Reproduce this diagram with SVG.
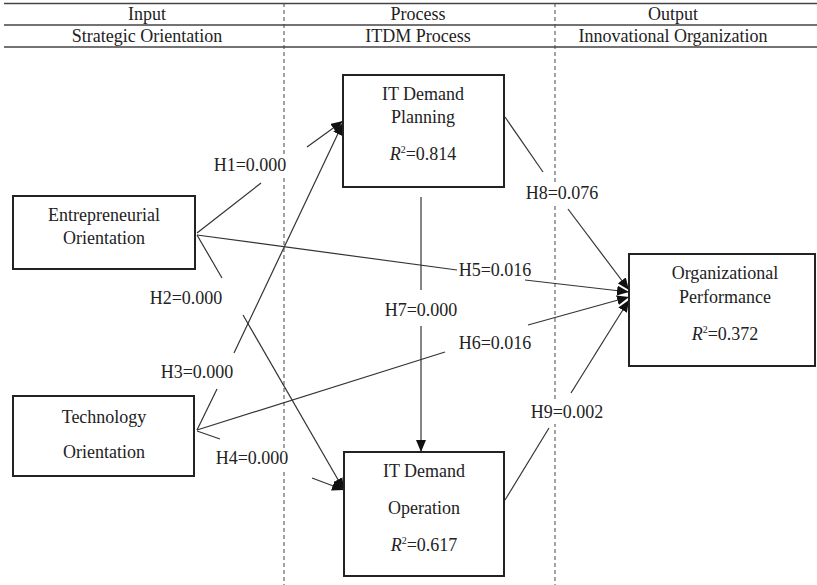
<svg xmlns="http://www.w3.org/2000/svg" width="817" height="585" viewBox="0 0 817 585">
<defs>
<marker id="arr" markerWidth="12" markerHeight="10" refX="12" refY="5" orient="auto" markerUnits="userSpaceOnUse">
<path d="M0,0 L12,5 L0,10 z" fill="#111"/>
</marker>
<style>
text{font-family:"Liberation Serif","Times New Roman",serif;font-size:18px;fill:#222;text-anchor:middle}
.hd{font-size:18px}
.box{fill:#fff;stroke:#222;stroke-width:2}
.ln{stroke:#333;stroke-width:1.2;fill:none}
.dash{stroke:#666;stroke-width:1.2;stroke-dasharray:4 3}
.rule{stroke:#444;stroke-width:1.3}
.bg{fill:#fff}
</style>
</defs>
<rect width="817" height="585" fill="#fff"/>
<g id="grid">
<line class="dash" x1="284" y1="3" x2="284" y2="585"/>
<line class="dash" x1="555" y1="3" x2="555" y2="585"/>
<line class="rule" x1="4" y1="3.5" x2="817" y2="3.5" style="stroke-width:1.6"/>
<line class="rule" x1="4" y1="25" x2="817" y2="25"/>
<line class="rule" x1="4" y1="47" x2="817" y2="47"/>
<text class="hd" x="147" y="20">Input</text>
<text class="hd" x="418" y="20">Process</text>
<text class="hd" x="673" y="20">Output</text>
<text class="hd" x="147" y="42">Strategic Orientation</text>
<text class="hd" x="418" y="42">ITDM Process</text>
<text class="hd" x="673" y="42">Innovational Organization</text>
</g>
<g id="connectors">
<line class="ln" x1="197" y1="233" x2="261" y2="183"/>
<line class="ln" x1="307" y1="147" x2="343" y2="121" marker-end="url(#arr)"/>
<line class="ln" x1="197" y1="235" x2="222" y2="278"/>
<line class="ln" x1="243" y1="315" x2="344" y2="490" marker-end="url(#arr)"/>
<line class="ln" x1="197" y1="430" x2="217" y2="389"/>
<line class="ln" x1="234" y1="353" x2="343" y2="123" marker-end="url(#arr)"/>
<line class="ln" x1="197" y1="431" x2="220" y2="439"/>
<line class="ln" x1="312" y1="478" x2="344" y2="490" marker-end="url(#arr)"/>
<line class="ln" x1="197" y1="235" x2="457" y2="270"/>
<line class="ln" x1="525" y1="280" x2="629" y2="292" marker-end="url(#arr)"/>
<line class="ln" x1="197" y1="430" x2="445" y2="352"/>
<line class="ln" x1="528" y1="325" x2="629" y2="297" marker-end="url(#arr)"/>
<line class="ln" x1="421" y1="197" x2="421" y2="290"/>
<line class="ln" x1="421" y1="326" x2="421" y2="452" marker-end="url(#arr)"/>
<line class="ln" x1="505" y1="117" x2="543" y2="172"/>
<line class="ln" x1="568" y1="209" x2="629" y2="290" marker-end="url(#arr)"/>
<line class="ln" x1="505" y1="500" x2="549" y2="428"/>
<line class="ln" x1="571" y1="393" x2="629" y2="300" marker-end="url(#arr)"/>
</g>
<g id="labels">
<rect class="bg" x="213" y="155" width="76" height="22"/>
<rect class="bg" x="215" y="448" width="76" height="22"/>
<rect class="bg" x="524" y="182" width="76" height="22"/>
<rect class="bg" x="529" y="402" width="76" height="22"/>
<text x="250" y="171">H1=0.000</text>
<text x="186" y="304">H2=0.000</text>
<text x="197" y="378">H3=0.000</text>
<text x="252" y="464">H4=0.000</text>
<text x="495" y="276">H5=0.016</text>
<text x="495" y="349">H6=0.016</text>
<text x="421" y="316">H7=0.000</text>
<text x="562" y="199">H8=0.076</text>
<text x="567" y="418">H9=0.002</text>
</g>
<g id="entrepreneurial-orientation">
<rect class="box" x="13" y="196" width="182" height="73"/>
<text x="104" y="221">Entrepreneurial</text>
<text x="104" y="244">Orientation</text>
</g>
<g id="technology-orientation">
<rect class="box" x="13" y="396" width="181" height="80"/>
<text x="104" y="423">Technology</text>
<text x="104" y="458">Orientation</text>
</g>
<g id="it-demand-planning">
<rect class="box" x="343" y="75" width="161" height="112"/>
<text x="423" y="100">IT Demand</text>
<text x="423" y="123">Planning</text>
<text x="423" y="160"><tspan font-style="italic">R</tspan><tspan font-size="10" dy="-7">2</tspan><tspan dy="7">=0.814</tspan></text>
</g>
<g id="it-demand-operation">
<rect class="box" x="344" y="452" width="160" height="124"/>
<text x="424" y="477">IT Demand</text>
<text x="424" y="514">Operation</text>
<text x="424" y="551"><tspan font-style="italic">R</tspan><tspan font-size="10" dy="-7">2</tspan><tspan dy="7">=0.617</tspan></text>
</g>
<g id="organizational-performance">
<rect class="box" x="629" y="254" width="186" height="112"/>
<text x="725" y="279">Organizational</text>
<text x="725" y="303">Performance</text>
<text x="725" y="340"><tspan font-style="italic">R</tspan><tspan font-size="10" dy="-7">2</tspan><tspan dy="7">=0.372</tspan></text>
</g>
</svg>
